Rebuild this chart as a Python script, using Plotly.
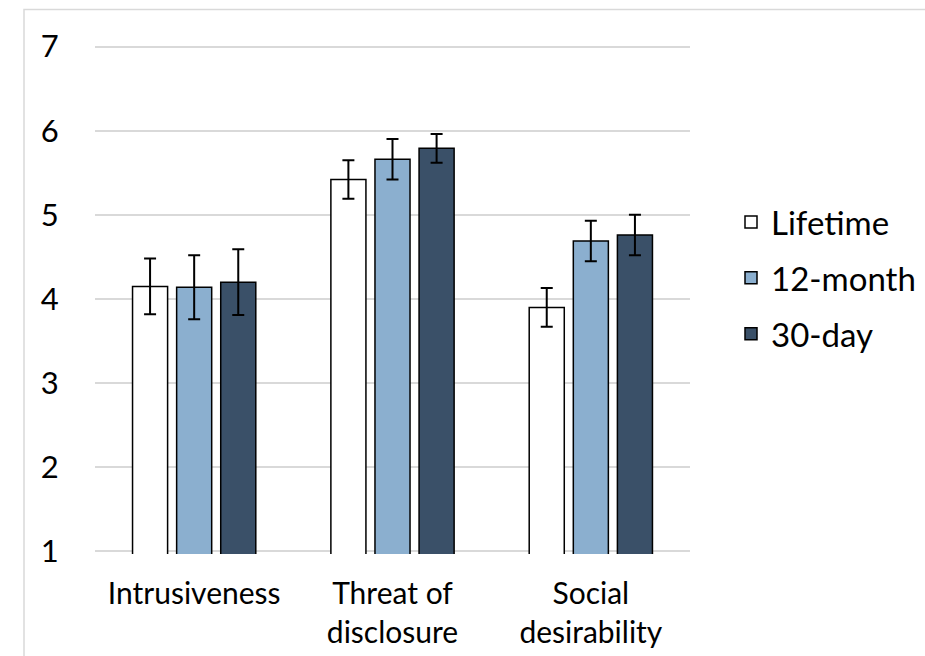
import plotly.graph_objects as go

categories = ["Intrusiveness", "Threat of<br>disclosure", "Social<br>desirability"]
series_names = ["Lifetime", "12-month", "30-day"]
lifetime = [4.15, 5.42, 3.90]
lifetime_err = [0.33, 0.23, 0.23]
month12 = [4.14, 5.66, 4.69]
month12_err = [0.38, 0.24, 0.24]
day30 = [4.20, 5.79, 4.76]
day30_err = [0.39, 0.17, 0.24]
y_ticks = [1, 2, 3, 4, 5, 6, 7]

colors = ["#FFFFFF", "#8BAFCF", "#3A5068"]
FONT = "Lato"

fig = go.Figure()
for name, vals, errs, col in zip(series_names, [lifetime, month12, day30],
                                 [lifetime_err, month12_err, day30_err], colors):
    fig.add_trace(go.Bar(
        x=categories, y=vals, name=name, legendgroup=name,
        marker=dict(color=col, line=dict(color="#000000", width=1.5)),
        error_y=dict(type="data", array=errs, visible=True, color="#000000",
                     thickness=2, width=6),
    ))

# figure slightly larger than the window; the window shows its top-left 925x656
W, H = 935, 667
PAD = 0.03
UNIT = 84.0
L = 95
R = W - 690
T = 47 - PAD * UNIT
B = H - 551 - PAD * UNIT
pw, ph = W - L - R, H - T - B

def px(x):
    return (x - L) / pw

def py(y):
    return (H - B - y) / ph

fig.update_layout(
    width=W, height=H,
    margin=dict(l=L, r=R, t=T, b=B),
    paper_bgcolor="white", plot_bgcolor="white",
    barmode="group", bargap=0.333, bargroupgap=0.205,
    font=dict(family=FONT, size=30, color="#000000"),
    xaxis=dict(showgrid=False, showline=False, ticks="outside", ticklen=13,
               tickcolor="rgba(0,0,0,0)", tickfont=dict(size=30)),
    yaxis=dict(range=[1 - PAD, 7 + PAD], tickvals=y_ticks, showgrid=True,
               gridcolor="#D9D9D9", gridwidth=1.5, zeroline=False, showline=False,
               ticks="outside", ticklen=29, tickcolor="rgba(0,0,0,0)",
               tickfont=dict(size=31)),
    legend=dict(x=px(731), y=py(278), xanchor="left", yanchor="middle",
                font=dict(size=33), bgcolor="rgba(0,0,0,0)",
                traceorder="grouped", tracegroupgap=10),
    shapes=[
        dict(type="rect", xref="paper", yref="paper",
             x0=px(24), x1=px(960), y0=py(690), y1=py(10),
             line=dict(color="#D9D9D9", width=1.5), fillcolor="rgba(0,0,0,0)",
             layer="below"),
    ],
)

fig.write_html(
    "out.html",
    config={"displayModeBar": False},
    post_script="document.body.style.margin='0';document.body.style.overflow='hidden';",
)
